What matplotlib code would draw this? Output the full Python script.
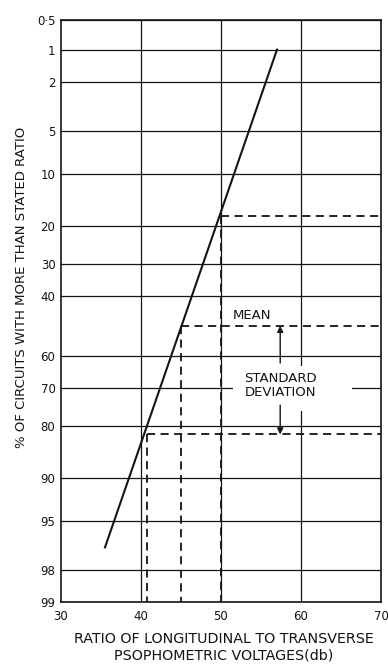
import numpy as np
import matplotlib
matplotlib.use("Agg")
import matplotlib.pyplot as plt
from matplotlib.patches import Rectangle
from statistics import NormalDist

# ---- data ----
ratio_db = [35.5, 57.0]          # ends of the fitted straight line
pct_more = [96.9, 1.0]

mean_db, mean_pct = 45.0, 50.0
upper_db, upper_pct = 50.0, 17.7
lower_db, lower_pct = 40.8, 82.0

y_ticks = [0.5, 1, 2, 5, 10, 20, 30, 40, 60, 70, 80, 90, 95, 98, 99]
y_labels = ['0·5', '1', '2', '5', '10', '20', '30', '40', '60', '70', '80',
            '90', '95', '98', '99']
x_ticks = [30, 40, 50, 60, 70]
x_labels = ['30', '40', '50', '60', '70']

_nd = NormalDist()
_ppf = np.vectorize(_nd.inv_cdf, otypes=[float])
_cdf = np.vectorize(_nd.cdf, otypes=[float])


def fwd(p):
    p = np.clip(np.asarray(p, dtype=float), 1e-7, 100 - 1e-7) / 100.0
    return _ppf(p)


def inv(z):
    z = np.asarray(z, dtype=float)
    return _cdf(z) * 100.0


fig = plt.figure(figsize=(3.88, 6.65), dpi=100)
ax = fig.add_axes([61 / 388, 1 - 602 / 665, 320 / 388, 582 / 665])
ax.set_yscale('function', functions=(fwd, inv))
ax.set_xlim(30, 70)
ax.set_ylim(99, 0.5)

ink = '#141414'
# grid
for yv in y_ticks:
    ax.axhline(yv, color=ink, lw=0.9, zorder=1)
for xv in x_ticks[1:-1]:
    ax.axvline(xv, color=ink, lw=0.9, zorder=1)

# dashed construction lines
dash = dict(color=ink, lw=1.3, ls=(0, (4.5, 3)), zorder=2)
for xv, pv in [(upper_db, upper_pct), (mean_db, mean_pct), (lower_db, lower_pct)]:
    ax.plot([xv, 70], [pv, pv], **dash)
    ax.plot([xv, xv], [pv, 99], **dash)

# main line
ax.plot(ratio_db, pct_more, color=ink, lw=1.5, zorder=4)

# white patch behind the "standard deviation" label (gridlines break there)
ax.add_patch(Rectangle((0.5375, 0.328), 0.3715, 0.0775, transform=ax.transAxes,
                       facecolor='white', edgecolor='none', zorder=3))

# annotations
ax.text(53.9, 46.7, 'MEAN', fontsize=9.5, ha='center', va='center', color=ink,
        zorder=5)
ax.text(57.4, 69.2, 'STANDARD\nDEVIATION', fontsize=9.5, ha='center',
        va='center', color=ink, linespacing=1.05, zorder=5)
arrow = dict(arrowstyle='-|>', color=ink, lw=1.0, mutation_scale=9,
             shrinkA=0, shrinkB=0)
ax.annotate('', xy=(57.4, mean_pct), xytext=(57.4, 62.3),
            arrowprops=arrow, zorder=6)
ax.annotate('', xy=(57.4, lower_pct), xytext=(57.4, 74.8),
            arrowprops=arrow, zorder=6)

ax.set_yticks(y_ticks)
ax.set_yticklabels(y_labels)
ax.yaxis.set_minor_locator(matplotlib.ticker.NullLocator())
ax.set_xticks(x_ticks)
ax.set_xticklabels(x_labels)
ax.tick_params(length=0, labelsize=8.5, colors=ink)
ax.tick_params(axis='x', pad=6)
ax.tick_params(axis='y', pad=4)

for s in ax.spines.values():
    s.set_color(ink)
    s.set_linewidth(1.2)

ax.set_xlabel('RATIO OF LONGITUDINAL TO TRANSVERSE\nPSOPHOMETRIC VOLTAGES(db)',
              fontsize=10.3, color=ink, linespacing=1.2, va='top')
ax.xaxis.set_label_coords(0.509, -0.0515)
ax.set_ylabel('% OF CIRCUITS WITH MORE THAN STATED RATIO', fontsize=9.5,
              color=ink, va='center')
ax.yaxis.set_label_coords(-0.122, 0.54)

fig.savefig('out.png', dpi=100, facecolor='white')
